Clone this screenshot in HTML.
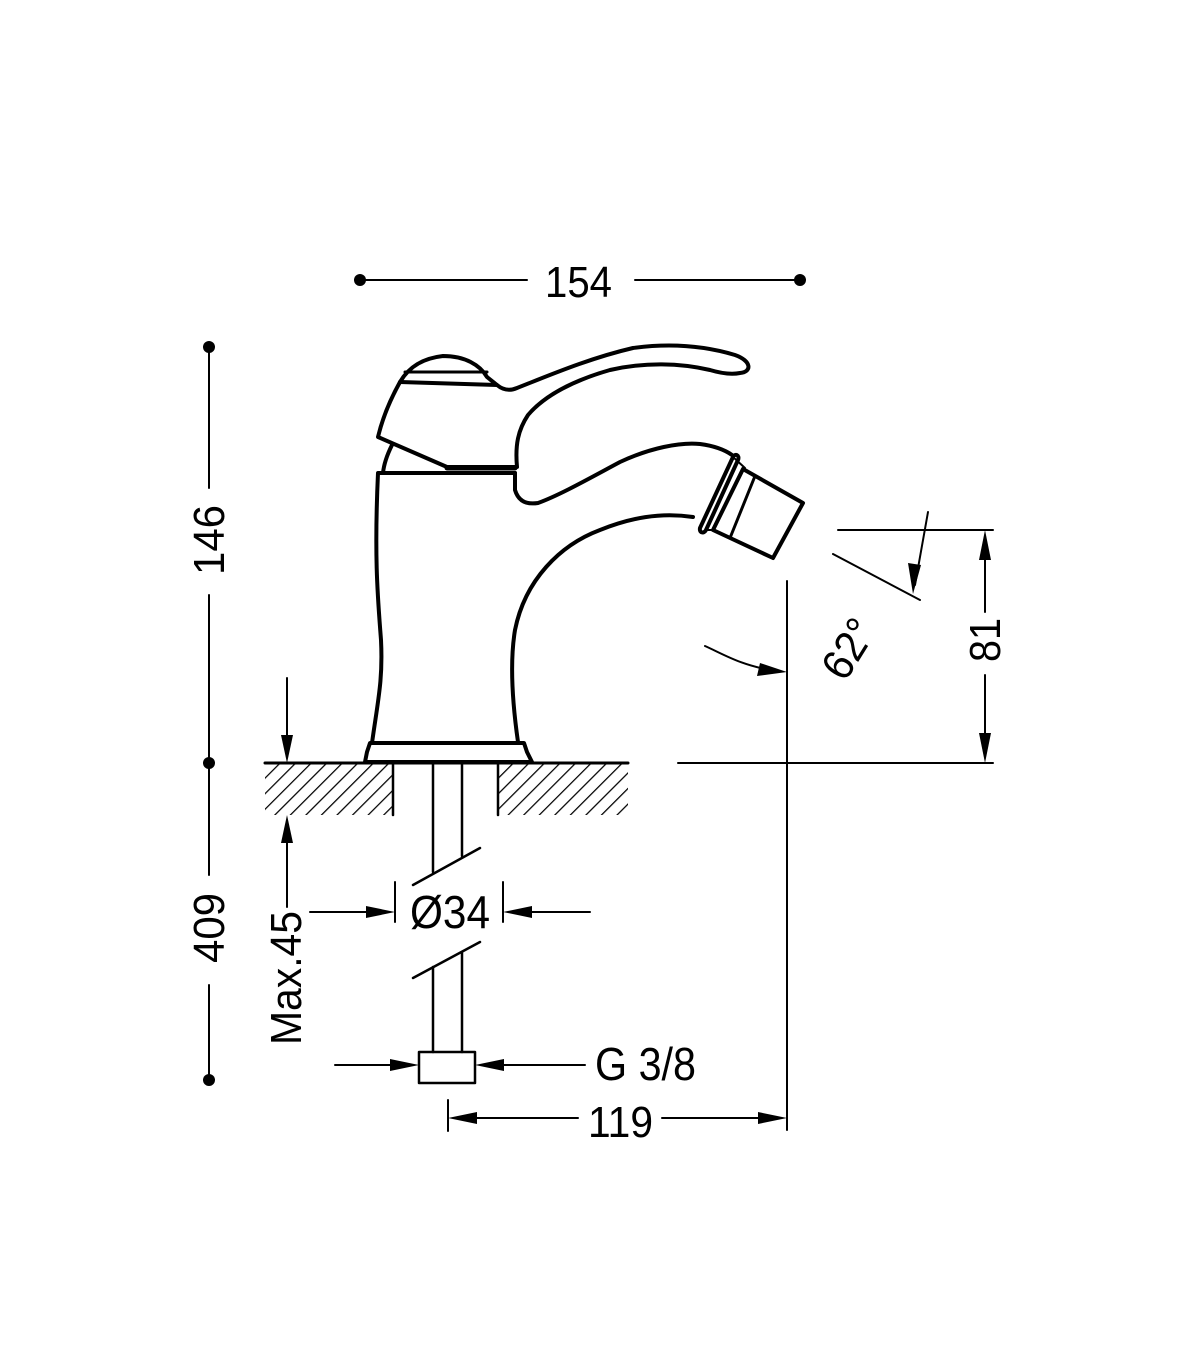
<!DOCTYPE html>
<html><head><meta charset="utf-8"><style>
html,body{margin:0;padding:0;background:#fff;}
svg{display:block;}
text{font-family:"Liberation Sans",sans-serif;fill:#000;}
</style></head><body>
<svg width="1200" height="1372" viewBox="0 0 1200 1372" xmlns="http://www.w3.org/2000/svg">
<defs>
<pattern id="h" width="11" height="11" patternUnits="userSpaceOnUse" patternTransform="rotate(45)">
<line x1="0" y1="0" x2="0" y2="11" stroke="#000" stroke-width="2.5"/>
</pattern>
</defs>
<g fill="none" stroke="#000" stroke-linejoin="round" stroke-linecap="round">
<g stroke-width="4">
<path d="M365,762 L532,762 L527,752 L524,743 L370,743 L367,752 Z"/>
<path d="M372,743 C378,700 383,680 381,640 C378,600 374,560 378,473 L515,473"/>
<path d="M518,742 C512,700 510,660 515,630 C525,580 560,545 600,530 C630,518 660,512 693,517"/>
<path d="M515,473 L515,490 C518,500 525,505 538,503 C560,495 590,478 620,462 C650,448 680,442 700,444 C715,446 725,450 732,455"/>
<path d="M700,528 L733,457 C735,453 740,455 738,460 L706,530 C704,534 699,533 700,528 Z" stroke-width="4"/>
<path d="M743,469 L803,503 L773,558 L713,530 Z"/>
<line x1="755" y1="476" x2="730" y2="538" stroke-width="3"/>
<line x1="733" y1="457" x2="745" y2="468" stroke-width="2"/>
<line x1="706" y1="530" x2="714" y2="530" stroke-width="2"/>
<path d="M497,385 C503,390 510,391 517,388 C550,375 590,358 633,348 C670,343 705,346 735,355 C752,361 752,372 740,373 C730,375 720,373 710,370 C680,363 645,362 610,370 C575,380 545,395 528,415 C518,430 515,445 517,467"/>
<path d="M400,382 C410,365 425,358 443,356 C465,356 480,365 487,377 L497,385 L400,382 Z"/>
<line x1="405" y1="372" x2="487" y2="372" stroke-width="3"/>
<path d="M400,382 C390,400 382,420 378,437 L447,467 L515,467" />
<line x1="447" y1="468" x2="515" y2="468" stroke-width="5"/>
<path d="M392,445 C387,455 384,463 383,473"/>
</g>
<rect x="265" y="764" width="128" height="51" fill="url(#h)" stroke="none"/>
<rect x="498" y="764" width="130" height="51" fill="url(#h)" stroke="none"/>
<line x1="265" y1="763" x2="628" y2="763" stroke-width="3"/>
<line x1="393" y1="763" x2="393" y2="815" stroke-width="2.5"/>
<line x1="498" y1="763" x2="498" y2="815" stroke-width="2.5"/>
<g stroke-width="2.5">
<line x1="433" y1="763" x2="433" y2="872"/>
<line x1="462" y1="763" x2="462" y2="856"/>
<line x1="413" y1="885" x2="480" y2="848"/>
<line x1="413" y1="978" x2="480" y2="942"/>
<line x1="433" y1="967" x2="433" y2="1052"/>
<line x1="462" y1="952" x2="462" y2="1052"/>
<rect x="419" y="1052" width="56" height="31"/>
</g>
<g stroke-width="2">
<line x1="360" y1="280" x2="527" y2="280"/>
<line x1="635" y1="280" x2="800" y2="280"/>
<line x1="209" y1="347" x2="209" y2="488"/>
<line x1="209" y1="595" x2="209" y2="875"/>
<line x1="209" y1="985" x2="209" y2="1080"/>
<line x1="287" y1="678" x2="287" y2="750"/>
<line x1="287" y1="830" x2="287" y2="907"/>
<line x1="310" y1="912" x2="380" y2="912"/>
<line x1="518" y1="912" x2="590" y2="912"/>
<line x1="395" y1="882" x2="395" y2="922"/>
<line x1="503" y1="882" x2="503" y2="922"/>
<line x1="335" y1="1065" x2="405" y2="1065"/>
<line x1="490" y1="1065" x2="585" y2="1065"/>
<line x1="448" y1="1100" x2="448" y2="1131"/>
<line x1="462" y1="1118" x2="578" y2="1118"/>
<line x1="662" y1="1118" x2="775" y2="1118"/>
<line x1="787" y1="581" x2="787" y2="1130"/>
<line x1="678" y1="763" x2="993" y2="763"/>
<line x1="838" y1="530" x2="993" y2="530"/>
<line x1="985" y1="545" x2="985" y2="612"/>
<line x1="985" y1="675" x2="985" y2="750"/>
<line x1="833" y1="554" x2="920" y2="600"/>
<path d="M928,512 L915,585"/>
<path d="M705,646 C725,655 740,665 775,671"/>
</g>
</g>
<g fill="#000">
<circle cx="360" cy="280" r="6"/><circle cx="800" cy="280" r="6"/>
<circle cx="209" cy="347" r="6"/><circle cx="209" cy="763" r="6"/><circle cx="209" cy="1080" r="6"/>
<polygon points="287,763 281,735 293,735"/>
<polygon points="287,815 281,843 293,843"/>
<polygon points="395,912 366,906 366,918"/>
<polygon points="503,912 532,906 532,918"/>
<polygon points="419,1065 390,1059 390,1071"/>
<polygon points="475,1065 504,1059 504,1071"/>
<polygon points="448,1118 477,1112 477,1124"/>
<polygon points="787,1118 758,1112 758,1124"/>
<polygon points="985,530 979,560 991,560"/>
<polygon points="985,763 979,733 991,733"/>
<polygon points="913,594 908,563 921,565"/>
<polygon points="787,672 760,663 757,676"/>
</g>
<text x="545" y="297" font-size="44" textLength="67" lengthAdjust="spacingAndGlyphs">154</text>
<text transform="translate(224,575) rotate(-90)" font-size="44" textLength="70" lengthAdjust="spacingAndGlyphs">146</text>
<text transform="translate(224,963) rotate(-90)" font-size="44" textLength="70" lengthAdjust="spacingAndGlyphs">409</text>
<text transform="translate(301,1045) rotate(-90)" font-size="44" textLength="134" lengthAdjust="spacingAndGlyphs">Max.45</text>
<text x="410" y="928" font-size="46" textLength="80" lengthAdjust="spacingAndGlyphs">Ø34</text>
<text x="595" y="1080" font-size="46" textLength="101" lengthAdjust="spacingAndGlyphs">G 3/8</text>
<text x="588" y="1137" font-size="44" textLength="65" lengthAdjust="spacingAndGlyphs">119</text>
<text transform="translate(1000,662) rotate(-90)" font-size="44" textLength="44" lengthAdjust="spacingAndGlyphs">81</text>
<text transform="translate(845,683) rotate(-58)" font-size="44" textLength="62" lengthAdjust="spacingAndGlyphs">62°</text>
</svg>
</body></html>
